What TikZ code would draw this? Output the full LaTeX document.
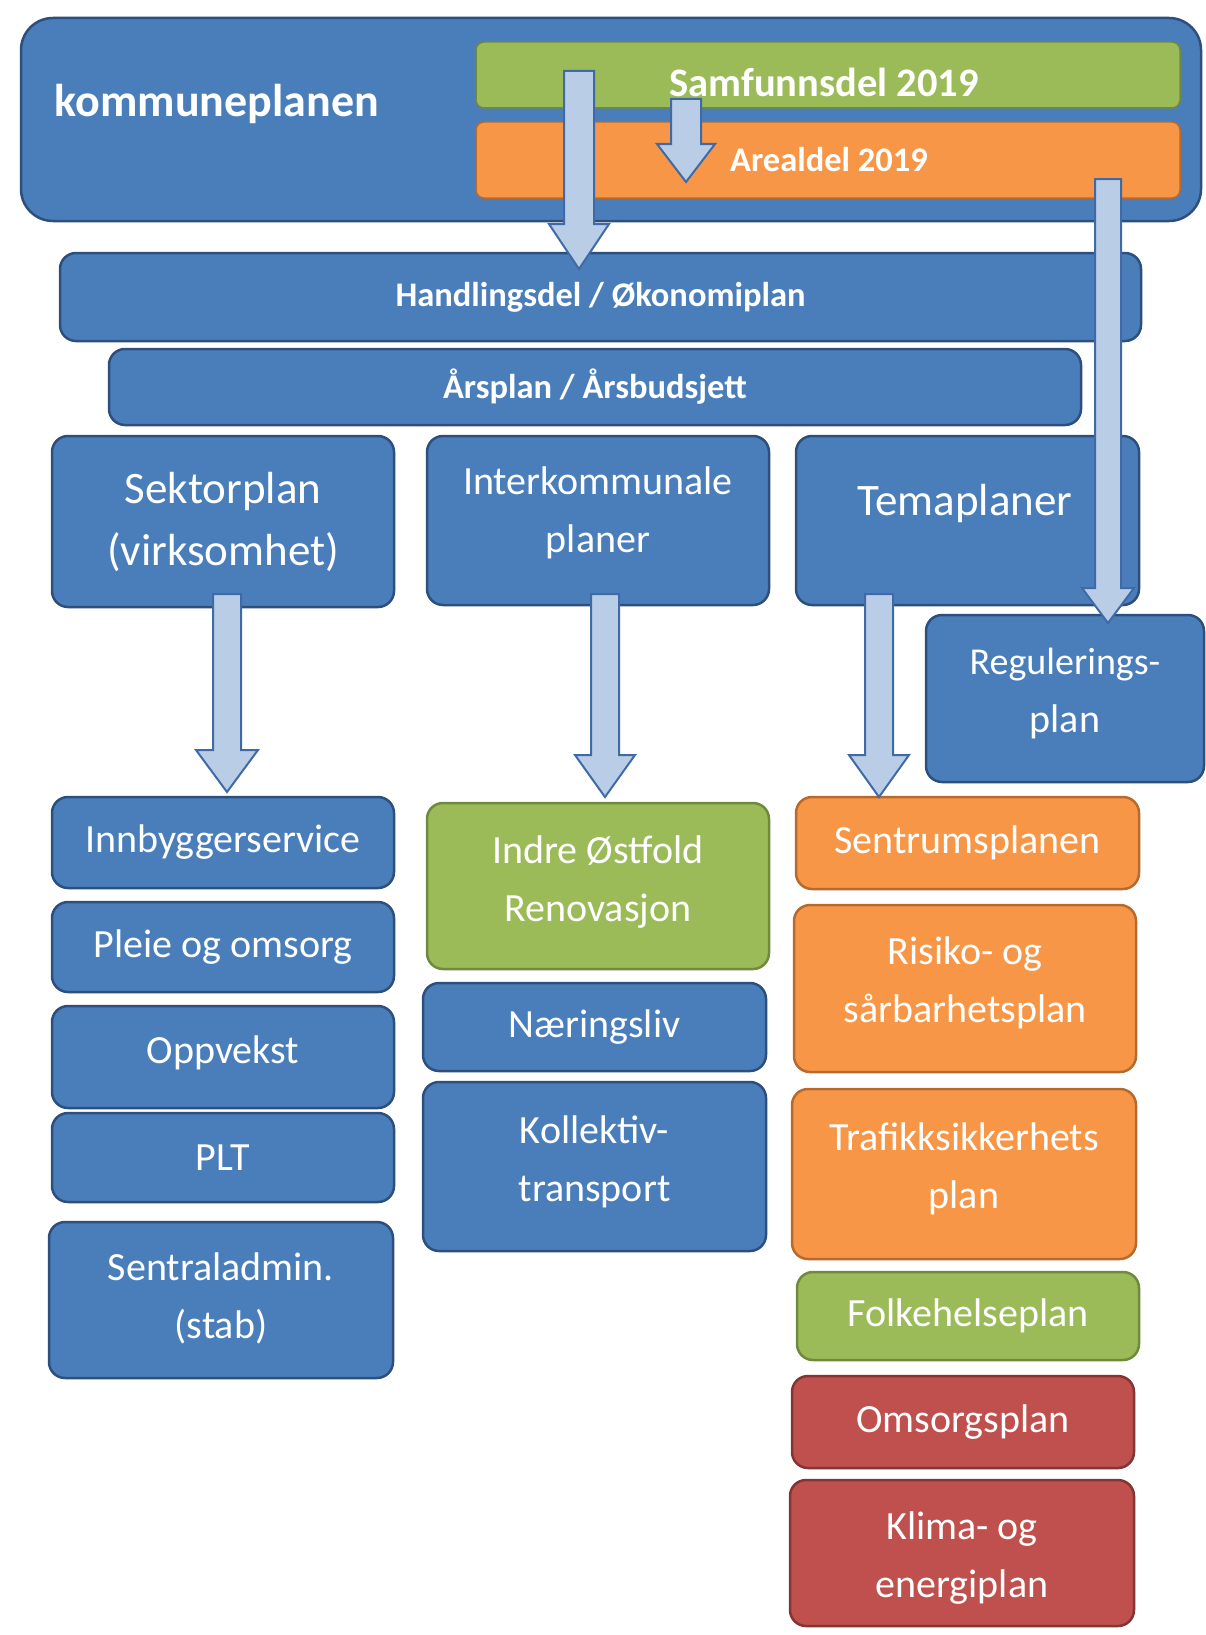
\documentclass[tikz,border=0pt]{standalone}
\usepackage{fontspec}
\setmainfont{Carlito}
\usetikzlibrary{calc}
\definecolor{bfill}{HTML}{4A7EBB}
\definecolor{bdraw}{HTML}{2C4F7E}
\definecolor{gfill}{HTML}{9BBB59}
\definecolor{gdraw}{HTML}{6F8A3C}
\definecolor{ofill}{HTML}{F79646}
\definecolor{odraw}{HTML}{B86A2E}
\definecolor{rfill}{HTML}{C0504D}
\definecolor{rdraw}{HTML}{833533}
\definecolor{afill}{HTML}{BACDE6}
\definecolor{adraw}{HTML}{3F6AA6}
\tikzset{
  box/.style={rounded corners=16pt, line width=2.5pt, text=white, align=center, inner sep=0pt,
              font=\fontsize{40}{58}\selectfont},
  bluebox/.style={box, fill=bfill, draw=bdraw},
  greenbox/.style={box, fill=gfill, draw=gdraw},
  orangebox/.style={box, fill=ofill, draw=odraw},
  redbox/.style={box, fill=rfill, draw=rdraw},
  bararrow/.style={fill=afill, draw=adraw, line width=2pt, line join=miter},
  txt/.style={text=white, align=center, inner sep=0pt, font=\fontsize{40}{58}\selectfont},
  boldtxt/.style={text=white, font=\bfseries}
}
% block arrow: start, tip, shaft half width, head half width, head length
\newcommand\blockarr[5]{%
  \path[bararrow] let \p1=(#1), \p2=(#2) in
    (\x1-#3pt,\y1) -- (\x1+#3pt,\y1) -- (\x1+#3pt,\y2+#5pt) -- (\x1+#4pt,\y2+#5pt)
    -- (\x1,\y2) -- (\x1-#4pt,\y2+#5pt) -- (\x1-#3pt,\y2+#5pt) -- cycle;}
\newcommand\bx[8]{% style, name, cx, cy, w, h, text, text y-shift
  \node[#1, minimum width=#5pt, minimum height=#6pt] (#2) at (#3,#4) {};
  \node[txt] (#2-t) at ($(#2.center)+(0,#8)$) {#7};}
\begin{document}
\begin{tikzpicture}[x=1pt,y=-1pt]
\useasboundingbox[fill=white] (0,0) rectangle (1206,1635);

% top block
\node[bluebox, rounded corners=32pt, minimum width=1180pt, minimum height=203pt] (kp) at (611,119.5) {};
\node[boldtxt, font=\bfseries\fontsize{46}{50}\selectfont] (kptxt) at (217,104) {kommuneplanen};
\node[greenbox, rounded corners=8pt, line width=1.5pt, minimum width=704pt, minimum height=66pt] (samf) at (828,75) {};
\node[boldtxt, font=\bfseries\fontsize{40.5}{44}\selectfont] (samftxt) at (824,82) {Samfunnsdel 2019};
\node[orangebox, rounded corners=8pt, line width=1.5pt, minimum width=704pt, minimum height=76pt] (areal) at (828,160) {};
\node[boldtxt, font=\bfseries\fontsize{34.5}{38}\selectfont] (arealtxt) at (829,160) {Arealdel 2019};

\node[bluebox, minimum width=1081pt, minimum height=88pt, font=\bfseries\fontsize{34.5}{38}\selectfont]
  (hand) at (600.5,297) {Handlingsdel / Økonomiplan};
\node[bluebox, minimum width=972pt, minimum height=76pt, font=\bfseries\fontsize{34.5}{38}\selectfont]
  (ars) at (595,387) {Årsplan / Årsbudsjett};

% second row
\node[bluebox, minimum width=342pt, minimum height=171pt, font=\fontsize{45}{62}\selectfont]
  (sek) at (223,521.5) {Sektorplan\\(virksomhet)};
\bx{bluebox}{inter}{598}{520.5}{342}{169}{Interkommunale\\planer}{-8}
\node[bluebox, minimum width=343pt, minimum height=169pt] (tema) at (967.5,520.5) {};
\node[txt, font=\fontsize{45}{50}\selectfont] (tema-t) at (965,503) {Temaplaner};
\bx{bluebox}{reg}{1065}{698.5}{278}{167}{\fontsize{38}{58}\selectfont Regulerings-\\plan}{-5}

% column 1
\bx{bluebox}{innb}{223}{842.5}{342}{91}{Innbyggerservice}{0}
\bx{bluebox}{pleie}{223}{947}{342}{90}{Pleie og omsorg}{0}
\bx{bluebox}{opp}{223}{1057}{342}{102}{Oppvekst}{-4}
\bx{bluebox}{plt}{223}{1157.5}{342}{89}{PLT}{0}
\bx{bluebox}{sentral}{221}{1300}{344}{156}{Sentraladmin.\\(stab)}{-2}

% column 2
\bx{greenbox}{indre}{598}{886}{342}{166}{Indre Østfold\\Renovasjon}{-4}
\bx{bluebox}{naer}{594.5}{1027}{343}{88}{Næringsliv}{0}
\bx{bluebox}{koll}{594.5}{1166.5}{343}{169}{Kollektiv-\\transport}{-5}

% column 3
\bx{orangebox}{sentrum}{967.5}{843}{343}{92}{Sentrumsplanen}{0}
\bx{orangebox}{risiko}{965}{988.5}{342}{167}{Risiko- og\\sårbarhetsplan}{-6}
\bx{orangebox}{trafikk}{964}{1174}{344}{170}{Trafikksikkerhets\\plan}{-5}
\bx{greenbox}{folk}{968}{1316}{342}{88}{Folkehelseplan}{0}
\bx{redbox}{omsorg}{963}{1422}{342}{92}{Omsorgsplan}{0}
\bx{redbox}{klima}{962}{1553}{344}{146}{Klima- og\\energiplan}{5}

% arrow end points
\coordinate (a1s) at (579,71);   \coordinate (a1e) at (579,269);
\coordinate (a2s) at (686,99);   \coordinate (a2e) at (686,182);
\coordinate (a3s) at (1108,179); \coordinate (a3e) at (1108,623);
\coordinate (a4s) at (227,594);  \coordinate (a4e) at (227,792);
\coordinate (a5s) at (605,594);  \coordinate (a5e) at (605,797);
\coordinate (a6s) at (879,594);  \coordinate (a6e) at (879,797);

\blockarr{a1s}{a1e}{15}{30}{45}
\blockarr{a2s}{a2e}{15}{29}{38}
\blockarr{a3s}{a3e}{13}{26}{35}
\blockarr{a4s}{a4e}{14}{31}{42}
\blockarr{a5s}{a5e}{14}{30}{42}
\blockarr{a6s}{a6e}{14}{30}{42}
\end{tikzpicture}
\end{document}
